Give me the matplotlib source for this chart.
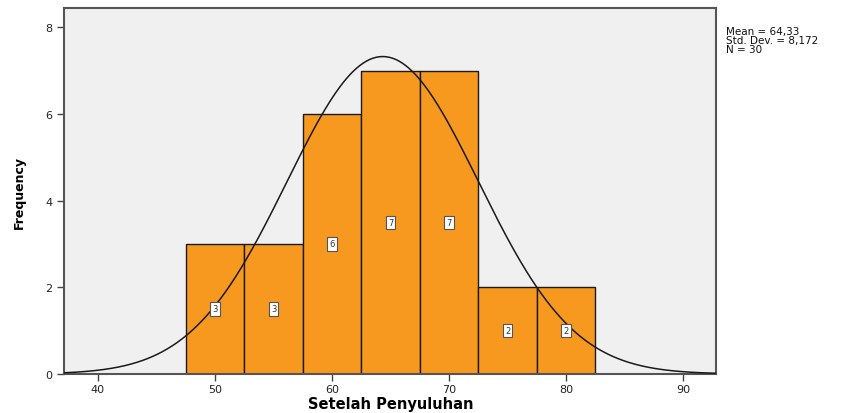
import numpy as np
import matplotlib
matplotlib.use("Agg")
import matplotlib.pyplot as plt

bin_edges = [47.5, 52.5, 57.5, 62.5, 67.5, 72.5, 77.5, 82.5]
counts = [3, 3, 6, 7, 7, 2, 2]
mean = 64.33
std = 8.172
n = 30
xticks = [40, 50, 60, 70, 80, 90]
yticks = [0, 2, 4, 6, 8]

fig = plt.figure(figsize=(8.56, 4.14), dpi=100)
ax = fig.add_axes([0.0748, 0.0942, 0.7616, 0.8838])
ax.set_facecolor('#F0F0F0')

lefts = bin_edges[:-1]
widths = np.diff(bin_edges)
ax.bar(lefts, counts, width=widths, align='edge', color='#F7991F',
       edgecolor='#1a1a1a', linewidth=1.0, zorder=2)

binw = widths[0]
xs = np.linspace(37.1, 92.8, 400)
ys = n * binw / (std * np.sqrt(2 * np.pi)) * np.exp(-0.5 * ((xs - mean) / std) ** 2)
ax.plot(xs, ys, color='#1a1a1a', linewidth=1.1, zorder=3)

for l, w, c in zip(lefts, widths, counts):
    ax.text(l + w / 2, c / 2, str(c), ha='center', va='center', fontsize=6,
            color='#333333', zorder=4,
            bbox=dict(boxstyle='square,pad=0.25', facecolor='white',
                      edgecolor='#555555', linewidth=0.8))

ax.set_xlim(37.1, 92.8)
ax.set_ylim(0, 8.44)
ax.set_xticks(xticks)
ax.set_yticks(yticks)
ax.tick_params(axis='both', labelsize=8, length=5, width=1, color='#444444',
               labelcolor='#222222', direction='out')
ax.tick_params(axis='x', pad=2)
for s in ax.spines.values():
    s.set_color('#555555')
    s.set_linewidth(1.5)

fig.text(0.457, 0.004, 'Setelah Penyuluhan', fontsize=10.5, fontweight='bold',
         ha='center', va='bottom')
ax.set_ylabel('Frequency', fontsize=9, fontweight='bold', labelpad=14)

fig.text(0.848, 0.935, 'Mean = 64,33\nStd. Dev. = 8,172\nN = 30', fontsize=7.5,
         va='top', ha='left', linespacing=0.85, color='#111111')

fig.savefig('out.png', dpi=100, facecolor='white')
